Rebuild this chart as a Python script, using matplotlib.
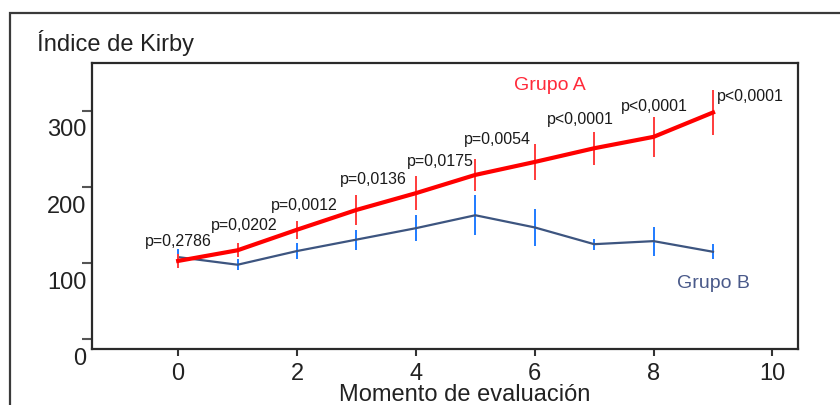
import matplotlib
matplotlib.use("Agg")
import matplotlib.pyplot as plt
from matplotlib.transforms import ScaledTranslation
from matplotlib.patches import Rectangle

plt.rcParams['font.family'] = ['Liberation Sans', 'DejaVu Sans']

# ---- data ----
moments = [0, 1, 2, 3, 4, 5, 6, 7, 8, 9]
grupo_a = [103, 117, 144, 170, 192, 216, 233, 251, 266, 298]
grupo_a_err = [9, 9, 12, 20, 22, 21, 24, 22, 26, 30]
grupo_b = [108, 98, 116, 131, 146, 163, 147, 125, 129, 115]
grupo_b_err = [11, 7, 11, 13, 17, 26, 24, 7, 19, 10]
p_labels = ["p=0,2786", "p=0,0202", "p=0,0012", "p=0,0136", "p=0,0175",
            "p=0,0054", "p<0,0001", "p<0,0001", "p<0,0001"]
p_label_x = [0.0, 1.11, 2.13, 3.29, 4.41, 5.37, 6.76, 8.02, 9.62]
p_label_y = [128, 149, 176, 210, 233, 262, 289, 306, 319]
x_ticks = [0, 2, 4, 6, 8, 10]
y_ticks = [0, 100, 200, 300]

W, H = 840, 405
fig = plt.figure(figsize=(W / 100, H / 100), dpi=100)
ax = fig.add_axes([92 / W, 1 - 349 / H, (798 - 92) / W, (349 - 63) / H])

red = '#ff0000'
red_err = '#ff3b3b'
blue_line = '#3d5580'
blue_err = '#1f7bff'

ax.errorbar(moments, grupo_b, yerr=grupo_b_err, color=blue_line, lw=1.6,
            ecolor=blue_err, elinewidth=1.4, capsize=0, zorder=2)
ax.errorbar(moments, grupo_a, yerr=grupo_a_err, color=red, lw=3.0,
            ecolor=red_err, elinewidth=1.4, capsize=0, zorder=3)

for t, xx, yy in zip(p_labels, p_label_x, p_label_y):
    ax.text(xx, yy, t, ha='center', va='center', fontsize=11.5, color='#1a1a1a')

ax.text(6.26, 333, "Grupo A", ha='center', va='center', fontsize=14,
        color='#ff2a3a')
ax.text(9.01, 74, "Grupo B", ha='center', va='center', fontsize=14,
        color='#4a5a8a')

ax.set_xlim(-1.45, 10.43)
ax.set_ylim(-12.7, 363)
ax.set_xticks(x_ticks)
ax.set_yticks(y_ticks)

for s in ax.spines.values():
    s.set_linewidth(1.6)
    s.set_color('#2a2a2a')

ax.tick_params(axis='x', direction='out', length=5, width=1.5, color='#333333',
               labelsize=17, pad=5, labelcolor='#222222')
ax.tick_params(axis='y', direction='out', length=7, width=1.5, color='#555555',
               labelsize=17, pad=-3, labelcolor='#222222')

off = ScaledTranslation(0, -17 / 100, fig.dpi_scale_trans)
for lab in ax.get_yticklabels():
    lab.set_transform(lab.get_transform() + off)

fig.text(37 / W, 1 - 50.5 / H, "Índice de Kirby", ha='left', va='baseline',
         fontsize=17, color='#222222')
fig.text(465 / W, 1 - 401 / H, "Momento de evaluación", ha='center',
         va='baseline', fontsize=17, color='#222222')

frame = Rectangle((10 / W, -0.2), 1.2, 1.2 + (1 - 13 / H) - 1.0,
                  transform=fig.transFigure, fill=False, lw=1.6,
                  edgecolor='#3a3a3a', zorder=0)
fig.patches.append(frame)

fig.savefig("out.png", dpi=100)
